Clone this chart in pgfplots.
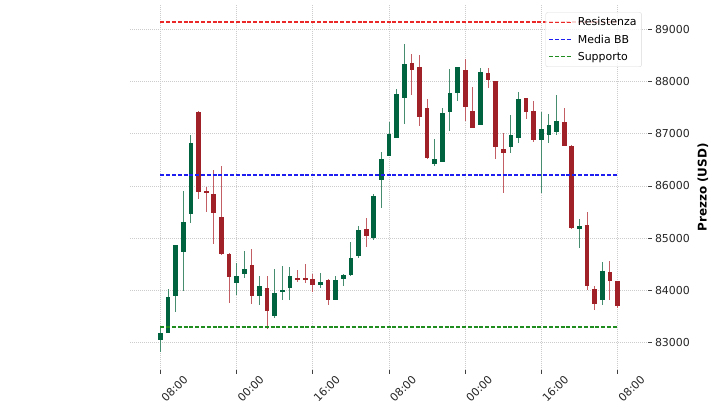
\documentclass[border=0pt]{standalone}
\usepackage{pgfplots}
\pgfplotsset{compat=1.18}
\usepackage{pgfplotstable}
\usepackage{fontspec}
\setmainfont{DejaVu Sans}
\definecolor{upc}{HTML}{006340}
\definecolor{dnc}{HTML}{A02128}
\definecolor{upw}{RGB}{70,140,110}
\definecolor{dnw}{RGB}{195,95,100}
\definecolor{resc}{RGB}{235,40,40}
\definecolor{bbc}{RGB}{30,30,240}
\definecolor{supc}{RGB}{30,140,30}
\pgfplotstableread{
i O H L C
0 83060 83310 82830 83190
1 83190 84020 83180 83870
2 83900 84870 83580 84865
3 84745 85900 84000 85320
4 85455 86970 85295 86830
5 87415 87435 85755 85880
6 85900 85985 85500 85865
7 85855 86315 84900 85475
8 85410 86380 84685 84690
9 84700 84710 83760 84250
10 84145 84530 83905 84285
11 84325 84750 84240 84415
12 84495 84785 83750 83890
13 83890 84270 83730 84080
14 84050 84285 83265 83615
15 83520 84420 83475 83955
16 83975 84465 83825 84015
17 84050 84445 83825 84285
18 84240 84385 84165 84195
19 84240 84510 84145 84195
20 84225 84325 83970 84100
21 84100 84335 84050 84165
22 84195 84220 83730 83810
23 83825 84285 83820 84210
24 84210 84325 84080 84290
25 84290 84925 84285 84625
26 84655 85230 84625 85165
27 85180 85390 84830 85040
28 85005 85840 84960 85805
29 86110 86650 85580 86520
30 86570 87225 86570 87005
31 86925 87850 86920 87755
32 87680 88725 87180 88345
33 88360 88520 87740 88215
34 88280 88500 87145 87320
35 87485 87670 86510 86540
36 86425 86905 86380 86510
37 86465 87500 86460 87395
38 87415 88235 87050 87775
39 87775 88280 87625 88280
40 88215 88440 87255 87520
41 87445 87895 87115 87115
42 87160 88265 87160 88180
43 88170 88265 87885 88030
44 88010 88010 86510 86745
45 86700 87020 85870 86640
46 86750 87370 86625 86970
47 86925 87790 86830 87670
48 87690 87690 87290 87425
49 87445 87625 86845 86880
50 86890 87415 85870 87095
51 86970 87385 86815 87175
52 87040 87735 86985 87250
53 87230 87500 86775 86775
54 86775 86780 85180 85200
55 85180 85375 84815 85230
56 85250 85500 84015 84080
57 84030 84095 83635 83740
58 83810 84545 83730 84365
59 84355 84560 83810 84175
60 84175 84175 83665 83695
}\candles
\begin{document}
\begin{tikzpicture}
\path[use as bounding box] (0,0) rectangle (720bp,405bp);
\begin{axis}[
  at={(130bp,35bp)}, anchor=south west,
  width=518bp, height=365bp, scale only axis,
  xmin=-4, xmax=64, ymin=82477, ymax=89465,
  axis line style={draw=none},
  grid=major,
  major grid style={draw=black!20, line width=0.7bp, dash pattern=on 1bp off 1bp},
  tick align=outside,
  major tick length=3.5bp,
  tick style={draw=black!75, line width=0.8bp},
  xtick pos=bottom, ytick pos=right,
  xtick={0,10,...,60},
  xticklabels={08:00,00:00,16:00,08:00,00:00,16:00,08:00},
  xticklabel style={xshift=14bp, yshift=-15bp, rotate=45, anchor=center},
  ytick={83000,84000,...,89000},
  yticklabel pos=right,
  scaled y ticks=false,
  /pgf/number format/assume math mode=true,
  yticklabel style={/pgf/number format/1000 sep={}, /pgf/number format/fixed},
  tick label style={font=\fontsize{11}{13}\selectfont, text=black!85},
  ylabel={\textbf{Prezzo (USD)}},
  every axis y label/.style={at={(axis description cs:1.106,0.5)}, rotate=90, anchor=center, font=\fontsize{12}{14}\selectfont},
  legend style={at={(rel axis cs:0.988,0.98)}, anchor=north east, draw=black!15, rounded corners=2bp,
    fill=white, fill opacity=0.8, text opacity=1, font=\fontsize{11}{13}\selectfont,
    inner xsep=3bp, inner ysep=3bp, row sep=3.5bp, cells={anchor=west},
    /tikz/every odd column/.append style={column sep=4bp}},
  legend image code/.code={\draw[#1] (0bp,0bp) -- (22bp,0bp);},
]
% wicks
\addplot[draw=none, no markers, forget plot,
  error bars/.cd, y dir=both, y explicit, error mark=none,
  error bar style={line width=1bp, draw=upw}]
  table[x expr={\thisrow{C}>=\thisrow{O} ? \thisrow{i} : nan},
        y expr={(\thisrow{H}+\thisrow{L})/2},
        y error expr={(\thisrow{H}-\thisrow{L})/2}] {\candles};
\addplot[draw=none, no markers, forget plot,
  error bars/.cd, y dir=both, y explicit, error mark=none,
  error bar style={line width=1bp, draw=dnw}]
  table[x expr={\thisrow{C}<\thisrow{O} ? \thisrow{i} : nan},
        y expr={(\thisrow{H}+\thisrow{L})/2},
        y error expr={(\thisrow{H}-\thisrow{L})/2}] {\candles};
% bodies
\addplot[draw=none, no markers, forget plot,
  error bars/.cd, y dir=both, y explicit, error mark=none,
  error bar style={line width=4.7bp, draw=upc}]
  table[x expr={\thisrow{C}>=\thisrow{O} ? \thisrow{i} : nan},
        y expr={(\thisrow{O}+\thisrow{C})/2},
        y error expr={abs(\thisrow{C}-\thisrow{O})/2}] {\candles};
\addplot[draw=none, no markers, forget plot,
  error bars/.cd, y dir=both, y explicit, error mark=none,
  error bar style={line width=4.7bp, draw=dnc}]
  table[x expr={\thisrow{C}<\thisrow{O} ? \thisrow{i} : nan},
        y expr={(\thisrow{O}+\thisrow{C})/2},
        y error expr={abs(\thisrow{C}-\thisrow{O})/2}] {\candles};
% levels
\addplot[draw=resc, no markers, line width=1.1bp, dash pattern=on 4bp off 1.8bp] coordinates {(0,89140) (60,89140)};
\addlegendentry{Resistenza}
\addplot[draw=bbc, no markers, line width=1.1bp, dash pattern=on 4bp off 1.8bp] coordinates {(0,86210) (60,86210)};
\addlegendentry{Media BB}
\addplot[draw=supc, no markers, line width=1.1bp, dash pattern=on 4bp off 1.8bp] coordinates {(0,83300) (60,83300)};
\addlegendentry{Supporto}
\end{axis}
\end{tikzpicture}
\end{document}
